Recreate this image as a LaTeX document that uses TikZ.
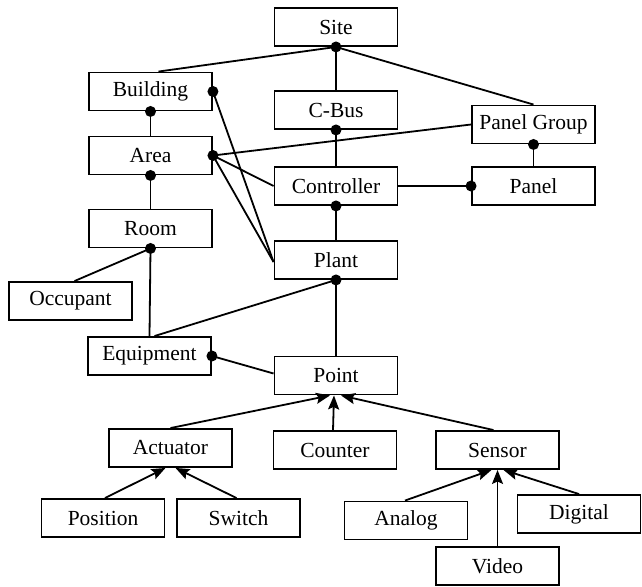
\documentclass[tikz,border=0pt]{standalone}
\usepackage{fontspec}
\setmainfont{Liberation Serif}
\usetikzlibrary{arrows.meta}
\begin{document}
\begin{tikzpicture}[x=1pt,y=-1pt,
  box/.style={draw,line width=1.9pt,minimum width=123pt,minimum height=38pt,inner sep=0pt,font=\fontsize{21.5}{25}\selectfont},
  conn/.style={line width=1.8pt},
  isa/.style={line width=1.8pt,-{Stealth[length=14pt,width=11pt,inset=2.5pt]}},
  dot/.style={fill=black}]
\useasboundingbox (0,0) rectangle (642,586);
\node[box] (Site) at (336,27) {Site};
\node[box] (Building) at (150.5,91.5) {Building};
\node[box] (CBus) at (336,110) {C-Bus};
\node[box] (PanelGroup) at (533.5,124.5) {Panel Group};
\node[box] (Area) at (150.5,155.5) {Area};
\node[box] (Controller) at (336,186) {Controller};
\node[box] (Panel) at (533.5,186) {Panel};
\node[box] (Room) at (150.5,228.5) {Room};
\node[box] (Plant) at (336,260) {Plant};
\node[box] (Occupant) at (70.5,301) {Occupant};
\node[box] (Equipment) at (149.5,356) {Equipment};
\node[box] (Point) at (336,375.5) {Point};
\node[box] (Actuator) at (170.5,448) {Actuator};
\node[box] (Counter) at (335,450) {Counter};
\node[box] (Sensor) at (497.5,450) {Sensor};
\node[box] (Position) at (103,518) {Position};
\node[box] (Switch) at (238.5,518) {Switch};
\node[box] (Analog) at (406,520.5) {Analog};
\node[box] (Digital) at (579,514) {Digital};
\node[box] (Video) at (497.5,566) {Video};
% associations
\draw[conn] (Site.south) -- ([xshift=8pt]Building.north);
\draw[conn] (Site.south) -- (CBus.north);
\draw[conn] (Site.south) -- (PanelGroup.north);
\draw[conn] (Building.south) -- (Area.north);
\draw[conn] (Building.east) -- ([yshift=-2pt]Plant.west);
\draw[conn] (Area.east) -- ([yshift=-2pt]Plant.west);
\draw[conn] (Area.east) -- (Controller.west);
\draw[conn] (Area.east) -- (PanelGroup.west);
\draw[conn] (CBus.south) -- (Controller.north);
\draw[conn] (PanelGroup.south) -- (Panel.north);
\draw[conn] (Controller.east) -- (Panel.west);
\draw[conn] (Controller.south) -- (Plant.north);
\draw[conn] (Area.south) -- (Room.north);
\draw[conn] (Room.south) -- ([xshift=4pt]Occupant.north);
\draw[conn] (Room.south) -- (Equipment.north);
\draw[conn] (Plant.south) -- ([xshift=5pt]Equipment.north);
\draw[conn] (Plant.south) -- (Point.north);
\draw[conn] (Equipment.east) -- ([yshift=2pt]Point.west);
% dots
\foreach \a in {Site.south,Building.south,Building.east,Area.east,Area.south,CBus.south,PanelGroup.south,Panel.west,Controller.south,Room.south,Plant.south,Equipment.east}
  \fill[dot] (\a) circle (5.5pt);
% generalisations
\draw[isa] (Actuator.north) -- ([xshift=-6pt]Point.south);
\draw[isa] ([xshift=-2pt]Counter.north) -- ([xshift=-2pt]Point.south);
\draw[isa] ([xshift=-4pt]Sensor.north) -- ([xshift=5pt]Point.south);
\draw[isa] ([xshift=2pt]Position.north) -- ([xshift=-5pt]Actuator.south);
\draw[isa] ([xshift=-2pt]Switch.north) -- ([xshift=5pt]Actuator.south);
\draw[isa] ([xshift=-1pt]Analog.north) -- ([xshift=-6pt]Sensor.south);
\draw[isa] (Video.north) -- (Sensor.south);
\draw[isa] (Digital.north) -- ([xshift=6pt]Sensor.south);
\end{tikzpicture}
\end{document}
